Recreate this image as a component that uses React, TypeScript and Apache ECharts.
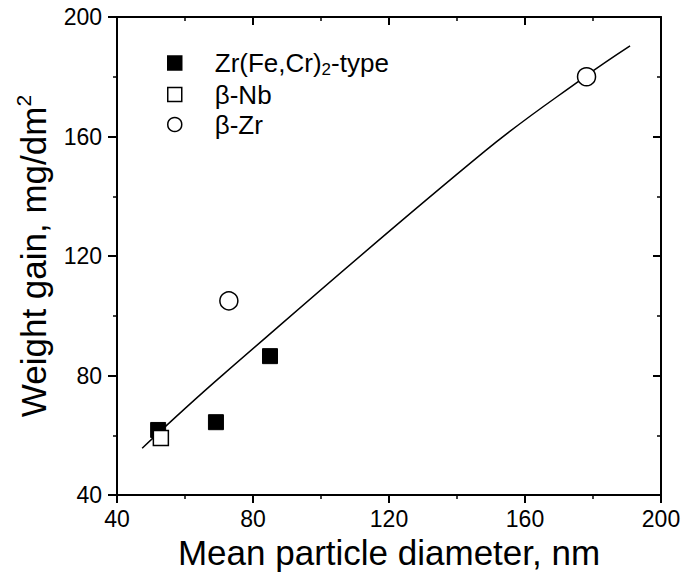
import React, { useEffect, useRef } from "react";
import * as echarts from "echarts";

const FONT = "'Liberation Sans', Arial, Helvetica, sans-serif";

const xTicks = [40, 80, 120, 160, 200];
const yTicks = [40, 80, 120, 160, 200];

const zrFeCr: [number, number][] = [
  [52.1, 61.8],
  [69.1, 64.4],
  [85.0, 86.5],
];
const betaNb: [number, number][] = [[52.9, 59.1]];
const betaZr: [number, number][] = [
  [72.9, 105.0],
  [178.1, 180.0],
];
const fitLine: [number, number][] = [
  [47.4, 55.7],
  [71.2, 80.3],
  [148.2, 155.1],
  [178.0, 180.3],
  [190.9, 190.3],
];

const seriesNames = ["Zr(Fe,Cr)2-type", "β-Nb", "β-Zr"];

export default function App() {
  const ref = useRef<HTMLDivElement>(null);
  useEffect(() => {
    document.body.style.margin = "0";
    if (!ref.current) return;
    const chart = echarts.init(ref.current, null, { renderer: "svg" });
    const axisCommon = {
      type: "value" as const,
      min: xTicks[0],
      max: xTicks[xTicks.length - 1],
      interval: 40,
      splitLine: { show: false },
      axisLine: { show: true, lineStyle: { color: "#000", width: 2 } },
      minorTick: { show: true, splitNumber: 2, length: 4, lineStyle: { color: "#000", width: 1.5 } },
      minorSplitLine: { show: false },
    };
    const yCommon = { ...axisCommon, min: yTicks[0], max: yTicks[yTicks.length - 1] };
    chart.setOption({
      animation: false,
      backgroundColor: "#fff",
      grid: { left: 117, right: 24, top: 17, bottom: 73, containLabel: false },
      legend: {
        orient: "vertical",
        left: 162,
        top: 45,
        itemWidth: 14,
        itemHeight: 14,
        itemGap: 4,
        selectedMode: false,
        itemStyle: { borderWidth: 1.5, borderColor: "#000" },
        data: [
          { name: seriesNames[0], icon: "rect" },
          { name: seriesNames[1], icon: "rect" },
          { name: seriesNames[2], icon: "circle" },
        ],
        formatter: (name: string) => {
          if (name === seriesNames[0]) return "{f|Zr(Fe,Cr)}{s|2}{a|-type}";
          return "{f|" + name + "}";
        },
        textStyle: {
          color: "#000",
          fontFamily: FONT,
          fontSize: 26,
          rich: {
            f: { fontFamily: FONT, fontSize: 26, lineHeight: 29, color: "#000", padding: [0, 0, 0, 28] },
            a: { fontFamily: FONT, fontSize: 26, lineHeight: 29, color: "#000" },
            s: { fontFamily: FONT, fontSize: 17, lineHeight: 14, color: "#000", verticalAlign: "bottom" },
          },
        },
      },
      xAxis: [
        {
          ...axisCommon,
          position: "bottom",
          name: "Mean particle diameter, nm",
          nameLocation: "middle",
          nameGap: 33,
          nameTextStyle: { color: "#000", fontFamily: FONT, fontSize: 35 },
          axisTick: { show: true, inside: false, length: 8, lineStyle: { color: "#000", width: 2 } },
          axisLabel: { color: "#000", fontFamily: FONT, fontSize: 23, margin: 12 },
        },
        {
          ...axisCommon,
          position: "top",
          axisTick: { show: true, inside: true, length: 8, lineStyle: { color: "#000", width: 2 } },
          axisLabel: { show: false },
        },
      ],
      yAxis: [
        {
          ...yCommon,
          position: "left",
          name: "{m|Weight gain, mg/dm}{sup|2}",
          nameLocation: "middle",
          nameRotate: 90,
          nameGap: 64,
          nameTextStyle: {
            color: "#000",
            fontFamily: FONT,
            fontSize: 35,
            rich: {
              m: { fontFamily: FONT, fontSize: 35, lineHeight: 40, color: "#000" },
              sup: { fontFamily: FONT, fontSize: 21, lineHeight: 12, color: "#000", verticalAlign: "top" },
            },
          },
          axisTick: { show: true, inside: false, length: 9, lineStyle: { color: "#000", width: 2 } },
          axisLabel: { color: "#000", fontFamily: FONT, fontSize: 23, margin: 15 },
        },
        {
          ...yCommon,
          position: "right",
          axisTick: { show: true, inside: true, length: 8, lineStyle: { color: "#000", width: 2 } },
          axisLabel: { show: false },
        },
      ],
      series: [
        {
          name: "fit",
          type: "line",
          data: fitLine,
          showSymbol: false,
          smooth: 0.4,
          lineStyle: { color: "#000", width: 1.5 },
          z: 1,
          silent: true,
        },
        {
          name: seriesNames[0],
          type: "scatter",
          data: zrFeCr,
          symbol: "rect",
          symbolSize: 15,
          itemStyle: { color: "#000", borderColor: "#000", borderWidth: 1, opacity: 1 },
          z: 3,
        },
        {
          name: seriesNames[1],
          type: "scatter",
          data: betaNb,
          symbol: "rect",
          symbolSize: 15,
          itemStyle: { color: "#fff", borderColor: "#000", borderWidth: 1.5, opacity: 1 },
          z: 4,
        },
        {
          name: seriesNames[2],
          type: "scatter",
          data: betaZr,
          symbol: "circle",
          symbolSize: 18,
          itemStyle: { color: "#fff", borderColor: "#000", borderWidth: 1.5, opacity: 1 },
          z: 4,
        },
      ],
    });
    return () => chart.dispose();
  }, []);
  return <div ref={ref} style={{ width: 685, height: 575 }} />;
}
